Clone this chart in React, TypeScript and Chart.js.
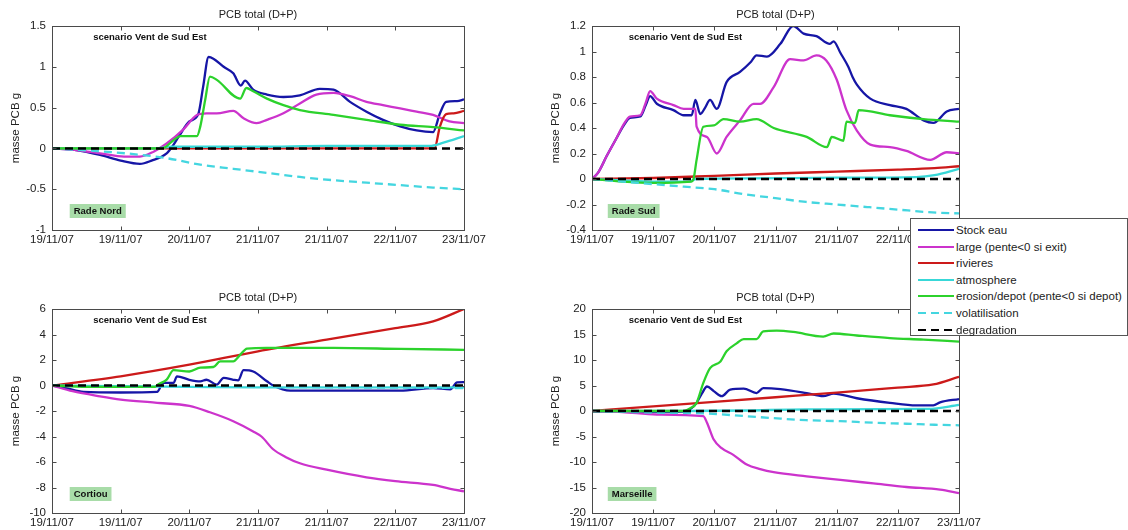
import React, { useEffect, useRef } from "react";
import { Chart, registerables } from "chart.js";

Chart.register(...registerables);

type Pt = [number, number];

const FONT = "'Liberation Sans', Arial, Helvetica, sans-serif";

// ---- shared labels ----
const chartTitle = "PCB total (D+P)";
const yAxisTitle = "masse PCB g";
const scenarioText = "scenario Vent de Sud Est";
const xTickLabels = ["19/11/07", "19/11/07", "20/11/07", "21/11/07", "21/11/07", "22/11/07", "23/11/07"];

const seriesNames = [
  "Stock eau",
  "large (pente<0 si exit)",
  "rivieres",
  "atmosphere",
  "erosion/depot (pente<0 si depot)",
  "volatilisation",
  "degradation",
];
const seriesColors = ["#1616a6", "#cc33cc", "#cc1a1a", "#38d8d8", "#2cd22c", "#44d6e0", "#000000"];
const seriesDash: number[][] = [[], [], [], [], [], [8, 5], [8, 5]];

// ---- Rade Nord ----
const nordStock: Pt[] = [[0,0],[0.35,-0.02],[0.7,-0.08],[1.0,-0.15],[1.28,-0.19],[1.45,-0.15],[1.67,-0.06],[1.75,0.02],[1.85,0.15],[2.0,0.33],[2.13,0.42],[2.2,0.75],[2.28,1.12],[2.35,1.1],[2.5,1.0],[2.64,0.92],[2.75,0.77],[2.81,0.83],[2.93,0.72],[3.13,0.66],[3.37,0.63],[3.61,0.65],[3.9,0.73],[4.1,0.72],[4.34,0.57],[4.58,0.45],[4.82,0.35],[5.07,0.27],[5.31,0.22],[5.55,0.2],[5.65,0.43],[5.74,0.57],[5.9,0.58],[6,0.6]];
const nordLarge: Pt[] = [[0,0],[0.35,-0.02],[0.7,-0.06],[1.05,-0.1],[1.28,-0.1],[1.48,-0.04],[1.67,0.06],[1.91,0.23],[2.11,0.41],[2.25,0.43],[2.4,0.43],[2.64,0.46],[2.79,0.37],[2.98,0.31],[3.13,0.35],[3.37,0.43],[3.61,0.55],[3.85,0.66],[4.1,0.68],[4.34,0.64],[4.58,0.57],[4.82,0.53],[5.07,0.49],[5.31,0.45],[5.55,0.41],[5.79,0.33],[6,0.31]];
const nordRivieres: Pt[] = [[0,0],[5.57,0],[5.65,0.27],[5.74,0.42],[5.85,0.43],[6,0.46]];
const nordAtmos: Pt[] = [[0,0],[1.5,0],[1.75,0.02],[3,0.02],[4,0.03],[5.5,0.03],[5.7,0.07],[6,0.15]];
const nordErosion: Pt[] = [[0,0],[1.6,0],[1.77,0.1],[1.87,0.15],[2.11,0.15],[2.16,0.27],[2.23,0.59],[2.3,0.88],[2.4,0.84],[2.74,0.61],[2.83,0.74],[2.93,0.7],[3.13,0.61],[3.37,0.53],[3.61,0.47],[4.1,0.41],[4.58,0.35],[5.07,0.29],[5.55,0.26],[6,0.22]];
const nordVolat: Pt[] = [[0,0],[0.6,-0.03],[1.19,-0.07],[1.67,-0.12],[2.16,-0.2],[2.64,-0.25],[3.13,-0.3],[3.61,-0.35],[4.1,-0.39],[4.58,-0.42],[5.07,-0.45],[5.55,-0.48],[6,-0.5]];
const nordDegr: Pt[] = [[0,0],[6,0]];

// ---- Rade Sud ----
const sudStock: Pt[] = [[0,0],[0.1,0.05],[0.24,0.18],[0.4,0.32],[0.52,0.42],[0.62,0.48],[0.79,0.49],[0.88,0.58],[0.95,0.65],[1.06,0.59],[1.33,0.54],[1.5,0.5],[1.63,0.5],[1.69,0.62],[1.77,0.51],[1.85,0.56],[1.93,0.62],[2.04,0.55],[2.2,0.76],[2.42,0.84],[2.6,0.92],[2.69,0.97],[2.86,0.96],[3.08,1.06],[3.29,1.2],[3.46,1.14],[3.67,1.12],[3.89,1.06],[3.95,1.08],[4.06,0.99],[4.19,0.88],[4.26,0.8],[4.33,0.74],[4.55,0.63],[4.87,0.58],[5.14,0.55],[5.42,0.46],[5.58,0.44],[5.8,0.53],[6,0.55]];
const sudLarge: Pt[] = [[0,0],[0.1,0.05],[0.24,0.18],[0.4,0.32],[0.52,0.43],[0.62,0.49],[0.79,0.5],[0.88,0.6],[0.95,0.69],[1.06,0.63],[1.33,0.58],[1.5,0.55],[1.69,0.55],[1.71,0.41],[1.88,0.33],[2.04,0.2],[2.2,0.33],[2.42,0.46],[2.64,0.59],[2.75,0.59],[2.97,0.72],[3.24,0.94],[3.46,0.93],[3.67,0.97],[3.83,0.93],[4.0,0.78],[4.16,0.54],[4.33,0.38],[4.55,0.27],[4.87,0.25],[5.14,0.22],[5.53,0.15],[5.8,0.21],[6,0.2]];
const sudRivieres: Pt[] = [[0,0],[1,0.008],[2,0.025],[3,0.043],[4,0.058],[5,0.073],[5.6,0.085],[6,0.1]];
const sudAtmos: Pt[] = [[0,0],[0.5,-0.01],[1,-0.02],[1.6,-0.02],[1.7,0],[2.5,0.005],[4,0.01],[5.3,0.015],[5.6,0.03],[6,0.08]];
const sudErosion: Pt[] = [[0,0],[0.5,-0.02],[1,-0.03],[1.62,-0.02],[1.66,0],[1.71,0.15],[1.82,0.41],[1.99,0.42],[2.15,0.47],[2.42,0.45],[2.69,0.47],[2.97,0.4],[3.51,0.33],[3.84,0.25],[3.92,0.33],[4.11,0.3],[4.16,0.45],[4.3,0.44],[4.36,0.54],[4.87,0.5],[5.42,0.47],[6,0.45]];
const sudVolat: Pt[] = [[0,0],[0.5,-0.02],[1,-0.04],[1.5,-0.06],[2,-0.08],[2.5,-0.12],[3,-0.15],[3.5,-0.18],[4,-0.2],[4.5,-0.22],[5,-0.24],[5.5,-0.26],[6,-0.27]];
const sudDegr: Pt[] = [[0,0],[6,0]];

// ---- Cortiou ----
const cortStock: Pt[] = [[0,0],[0.2,-0.2],[0.46,-0.5],[1.0,-0.55],[1.53,-0.5],[1.62,0.2],[1.77,0.2],[1.82,0.72],[2.0,0.45],[2.16,0.33],[2.25,0.45],[2.4,0.07],[2.5,0.6],[2.64,0.45],[2.71,0.4],[2.79,1.2],[2.93,1.1],[3.13,0.33],[3.22,0],[3.47,-0.4],[4.1,-0.4],[5.07,-0.4],[5.55,-0.2],[5.8,-0.3],[5.9,0.25],[6,0.27]];
const cortLarge: Pt[] = [[0,0],[0.3,-0.45],[0.7,-0.85],[1.0,-1.1],[1.5,-1.35],[2.0,-1.6],[2.3,-2.1],[2.64,-2.8],[2.93,-3.6],[3.05,-4.0],[3.22,-5.0],[3.4,-5.6],[3.61,-6.1],[4.0,-6.6],[4.58,-7.2],[5.0,-7.5],[5.55,-7.8],[5.8,-8.1],[6,-8.3]];
const cortRivieres: Pt[] = [[0,0],[1,0.72],[2,1.63],[3,2.68],[4,3.6],[5,4.5],[5.55,5.03],[6,6.0]];
const cortAtmos: Pt[] = [[0,0],[1,-0.05],[2,-0.1],[3,-0.15],[4,-0.15],[5,-0.15],[6,-0.15]];
const cortErosion: Pt[] = [[0,0],[0.5,-0.1],[1.5,-0.1],[1.55,0.1],[1.67,0.46],[1.77,1.2],[2.0,1.1],[2.16,1.4],[2.35,1.45],[2.45,1.9],[2.64,1.9],[2.74,2.4],[2.84,2.9],[3.13,2.95],[4.1,2.95],[5.07,2.87],[6,2.8]];
const cortVolat: Pt[] = [[0,0],[2,-0.07],[4,-0.14],[6,-0.2]];
const cortDegr: Pt[] = [[0,0],[6,0]];

// ---- Marseille ----
const marsStock: Pt[] = [[0,0],[1,-0.2],[1.5,-0.1],[1.6,0.3],[1.71,1.6],[1.8,3.5],[1.88,4.8],[1.99,3.9],[2.12,2.9],[2.26,4.2],[2.48,4.4],[2.69,3.5],[2.8,4.5],[3.08,4.3],[3.51,3.5],[3.78,2.9],[3.95,3.4],[4.33,2.5],[4.87,1.6],[5.3,1.1],[5.58,1.1],[5.69,1.7],[6,2.35]];
const marsLarge: Pt[] = [[0,0],[0.5,-0.2],[1.06,-0.7],[1.82,-1.0],[1.88,-2.3],[1.99,-5.6],[2.12,-7.3],[2.31,-8.6],[2.53,-10.5],[2.75,-11.4],[2.97,-12.0],[3.51,-12.8],[4.06,-13.5],[4.6,-14.2],[5.14,-14.9],[5.69,-15.4],[6,-16.1]];
const marsRivieres: Pt[] = [[0,0],[1,0.9],[2,1.8],[3,2.7],[4,3.6],[5,4.6],[5.58,5.2],[6,6.7]];
const marsAtmos: Pt[] = [[0,0],[1.5,0],[2.5,0.1],[3.5,0.3],[5.5,0.4],[6,1.2]];
const marsErosion: Pt[] = [[0,0],[1.5,0],[1.6,0.5],[1.71,1.6],[1.82,5.5],[1.93,8.4],[2.1,9.7],[2.2,11.7],[2.37,13.3],[2.48,14.1],[2.69,14.1],[2.8,15.6],[3.02,15.75],[3.29,15.5],[3.78,14.6],[3.95,15.2],[4.33,14.8],[4.87,14.3],[5.42,14.0],[6,13.6]];
const marsVolat: Pt[] = [[0,0],[1,-0.3],[1.88,-0.5],[2.5,-1.0],[2.97,-1.4],[3.5,-1.8],[4.06,-2.0],[4.6,-2.3],[5.14,-2.5],[5.6,-2.7],[6,-2.8]];
const marsDegr: Pt[] = [[0,0],[6,0]];

interface PanelDef {
  region: string;
  series: Pt[][];
  yMin: number;
  yMax: number;
  yStep: number;
  left: number;
  top: number;
  width: number;
  height: number;
  plotRight: number;
}

const panels: PanelDef[] = [
  { region: "Rade Nord", series: [nordStock, nordLarge, nordRivieres, nordAtmos, nordErosion, nordVolat, nordDegr], yMin: -1, yMax: 1.5, yStep: 0.5, left: 0, top: 0, width: 540, height: 265, plotRight: 464 },
  { region: "Rade Sud", series: [sudStock, sudLarge, sudRivieres, sudAtmos, sudErosion, sudVolat, sudDegr], yMin: -0.4, yMax: 1.2, yStep: 0.2, left: 540, top: 0, width: 588, height: 265, plotRight: 419 },
  { region: "Cortiou", series: [cortStock, cortLarge, cortRivieres, cortAtmos, cortErosion, cortVolat, cortDegr], yMin: -10, yMax: 6, yStep: 2, left: 0, top: 283, width: 540, height: 247, plotRight: 464 },
  { region: "Marseille", series: [marsStock, marsLarge, marsRivieres, marsAtmos, marsErosion, marsVolat, marsDegr], yMin: -20, yMax: 20, yStep: 5, left: 540, top: 283, width: 588, height: 247, plotRight: 419 },
];

const PLOT_BOTTOM = 230;
const Y_AXIS_W = 52;

function makeDecorPlugin(region: string) {
  return {
    id: "matlabDecor",
    afterDatasetsDraw(chart: any) {
      const { ctx, chartArea: a, scales } = chart;
      const xs = scales.x;
      const ys = scales.y;
      const L = Math.round(a.left) + 0.5;
      const R = Math.round(a.right) + 0.5;
      const T = Math.round(a.top) + 0.5;
      const B = Math.round(a.bottom) + 0.5;
      ctx.save();
      ctx.strokeStyle = "#4a4a4a";
      ctx.lineWidth = 1;
      ctx.setLineDash([]);
      ctx.strokeRect(L, T, R - L, B - T);
      ctx.beginPath();
      xs.ticks.forEach((t: any) => {
        const px = Math.round(xs.getPixelForValue(t.value)) + 0.5;
        ctx.moveTo(px, B); ctx.lineTo(px, B - 4);
        ctx.moveTo(px, T); ctx.lineTo(px, T + 4);
      });
      ys.ticks.forEach((t: any) => {
        const py = Math.round(ys.getPixelForValue(t.value)) + 0.5;
        ctx.moveTo(L, py); ctx.lineTo(L + 4, py);
        ctx.moveTo(R, py); ctx.lineTo(R - 4, py);
      });
      ctx.stroke();

      const w = a.right - a.left;
      ctx.font = `bold 9.5px ${FONT}`;
      ctx.textBaseline = "middle";
      ctx.textAlign = "left";
      ctx.fillStyle = "#111";
      ctx.fillText(scenarioText, a.left + 0.1 * w, a.top + 11);

      const bw = ctx.measureText(region).width + 8;
      const bx = a.left + 0.043 * w;
      ctx.fillStyle = "#a8dca8";
      ctx.fillRect(bx, a.bottom - 26, bw, 14);
      ctx.fillStyle = "#111";
      ctx.fillText(region, bx + 4, a.bottom - 19);
      ctx.restore();
    },
  };
}

function Panel({ def }: { def: PanelDef }) {
  const ref = useRef<HTMLCanvasElement>(null);
  useEffect(() => {
    const canvas = ref.current;
    if (!canvas) return;
    const datasets = def.series.map((pts, i) => ({
      label: seriesNames[i],
      data: pts.map(([x, y]) => ({ x, y })),
      borderColor: seriesColors[i],
      backgroundColor: seriesColors[i],
      borderDash: seriesDash[i],
      borderWidth: i === 6 ? 2.5 : 2.3,
      pointRadius: 0,
      cubicInterpolationMode: "monotone",
      fill: false,
      order: 6 - i,
    }));
    const chart = new Chart(canvas, {
      type: "line",
      data: { datasets },
      options: {
        responsive: false,
        maintainAspectRatio: false,
        animation: false,
        devicePixelRatio: 1,
        layout: { padding: { left: 0, top: 0, right: def.width - def.plotRight, bottom: 0 } },
        plugins: {
          legend: { display: false },
          tooltip: { enabled: false },
          title: {
            display: true,
            text: chartTitle,
            fullSize: false,
            color: "#222",
            font: { family: FONT, size: 11, weight: "normal" },
            padding: { top: 8, bottom: 4.8 },
          },
        },
        scales: {
          x: {
            type: "linear",
            min: 0,
            max: 6,
            grid: { display: false, drawTicks: false },
            border: { display: false },
            ticks: {
              stepSize: 1,
              autoSkip: false,
              maxRotation: 0,
              padding: 3,
              color: "#222",
              font: { family: FONT, size: 11.5 },
              callback: (v: any) => xTickLabels[Math.round(Number(v))] ?? "",
            },
            afterFit: (axis: any) => {
              axis.height = def.height - PLOT_BOTTOM;
              axis.paddingLeft = 0;
              axis.paddingRight = 0;
            },
          },
          y: {
            type: "linear",
            min: def.yMin,
            max: def.yMax,
            grid: { display: false, drawTicks: false },
            border: { display: false },
            ticks: {
              stepSize: def.yStep,
              padding: 6,
              color: "#222",
              font: { family: FONT, size: 11.5 },
              callback: (v: any) => String(Number(Number(v).toFixed(2))),
            },
            title: {
              display: true,
              text: yAxisTitle,
              color: "#222",
              font: { family: FONT, size: 11.5 },
              padding: { top: 9.3, bottom: 0 },
            },
            afterFit: (axis: any) => {
              axis.width = Y_AXIS_W;
              axis.paddingTop = 0;
              axis.paddingBottom = 0;
            },
          },
        },
      },
      plugins: [makeDecorPlugin(def.region)],
    } as any);
    return () => chart.destroy();
  }, [def]);
  return (
    <canvas
      ref={ref}
      width={def.width}
      height={def.height}
      style={{ position: "absolute", left: def.left, top: def.top, width: def.width, height: def.height }}
    />
  );
}

function LegendSample({ color, dash }: { color: string; dash: number[] }) {
  return (
    <svg width={36} height={6} style={{ position: "absolute", left: 7, top: 5 }}>
      <line x1={0} y1={3} x2={36} y2={3} stroke={color} strokeWidth={2} strokeDasharray={dash.length ? dash.join(",") : undefined} />
    </svg>
  );
}

export default function App() {
  return (
    <div style={{ position: "absolute", left: 0, top: 0, width: 1128, height: 530, background: "#fff", overflow: "hidden", fontFamily: FONT }}>
      {panels.map((p) => (
        <Panel key={p.region} def={p} />
      ))}
      <div
        style={{
          position: "absolute",
          left: 910,
          top: 218,
          width: 216,
          height: 116,
          border: "1px solid #555",
          background: "#fff",
          zIndex: 10,
        }}
      >
        {seriesNames.map((name, i) => (
          <div key={name} style={{ position: "absolute", left: 0, top: 3 + 16.6 * i, height: 16, width: 216 }}>
            <LegendSample color={seriesColors[i]} dash={seriesDash[i]} />
            <span style={{ position: "absolute", left: 45, top: 0, fontSize: 11.5, lineHeight: "16px", color: "#222", whiteSpace: "nowrap" }}>
              {name}
            </span>
          </div>
        ))}
      </div>
    </div>
  );
}
